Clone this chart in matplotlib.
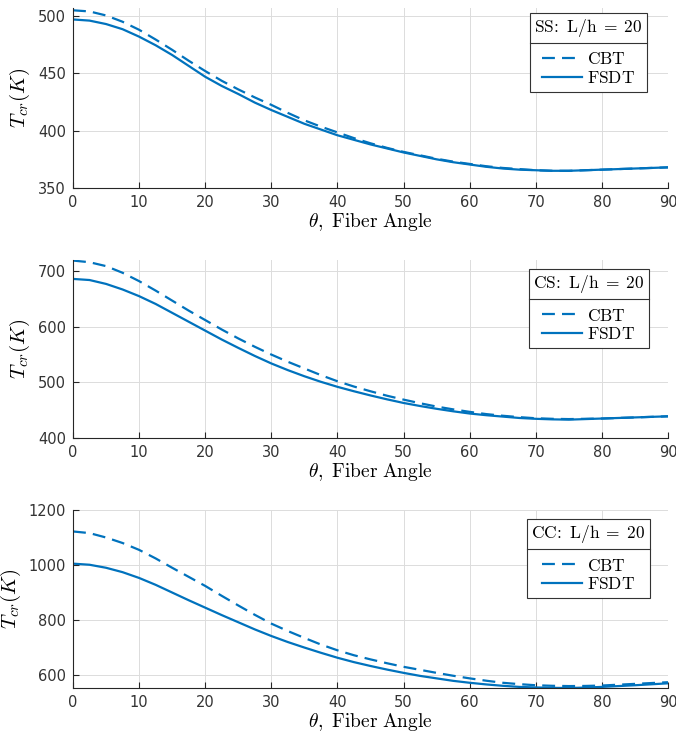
import matplotlib
matplotlib.use('Agg')
import matplotlib.pyplot as plt
from matplotlib.lines import Line2D

plt.rcParams['mathtext.fontset'] = 'cm'
plt.rcParams['font.family'] = 'DejaVu Sans'

# fiber angle in degrees
theta = [0, 2.5, 5, 7.5, 10, 12.5, 15, 17.5, 20, 22.5, 25, 27.5, 30, 32.5, 35, 37.5,
         40, 42.5, 45, 47.5, 50, 52.5, 55, 57.5, 60, 62.5, 65, 67.5, 70, 72.5, 75,
         77.5, 80, 82.5, 85, 87.5, 90]

# critical temperature (K), simply supported
ss_cbt = [505, 504, 500.5, 495, 488, 479.5, 470.5, 461, 452, 443.5, 436, 429, 422.5,
          415.5, 409, 403.5, 398.5, 393.5, 389, 385, 381.5, 378.5, 375.5, 373, 371,
          369, 367.5, 366.5, 365.5, 365, 365, 365.5, 366, 366.5, 367, 367.5, 368]
ss_fsdt = [497, 496, 493, 488.5, 482, 474.5, 466, 456.5, 447, 439, 432, 424.5, 418,
           412, 406, 401, 396, 392, 388, 384.5, 381, 378, 375, 372.5, 370.5, 368.5,
           367, 366, 365.5, 365, 365, 365.5, 366, 366.5, 367, 367.5, 368]

# clamped - simply supported
cs_cbt = [719, 716, 709, 697, 682, 665, 647, 629, 612, 595, 579, 564, 550, 537, 525,
          513, 502, 492.5, 484, 476, 469, 462.5, 456.5, 451.5, 447, 443, 440, 437.5,
          435.5, 434.5, 434, 434.5, 435, 436, 437, 438, 439]
cs_fsdt = [686, 684, 677, 667, 655, 641, 625, 609, 593, 577, 562, 547.5, 534, 522, 511,
           501, 492, 484, 476.5, 469.5, 463, 457.5, 452.5, 448, 444, 441, 438.5, 436,
           434.5, 433.5, 433, 434, 435, 436, 437, 438, 439]

# clamped - clamped
cc_cbt = [1122, 1116, 1100, 1080, 1055, 1024, 990, 957, 924, 888, 853, 819, 787, 760,
          735, 711, 690, 672, 657, 643, 630, 619, 608, 597.5, 588, 579.5, 572, 567,
          563, 561, 560, 560.5, 562, 565, 568, 571, 574]
cc_fsdt = [1005, 1001, 990, 974, 953, 928, 900, 872, 845, 818, 792, 766, 742, 720, 700,
           681, 663, 647, 633, 620, 608, 597, 588, 579, 572, 566, 561, 557, 555, 553.5,
           553, 554.5, 557, 560, 563, 566.5, 570]

panels = [
    ('SS', ss_cbt, ss_fsdt, (350, 507), [350, 400, 450, 500]),
    ('CS', cs_cbt, cs_fsdt, (400, 720), [400, 500, 600, 700]),
    ('CC', cc_cbt, cc_fsdt, (553, 1200), [600, 800, 1000, 1200]),
]
# axes boxes in pixels: (top, bottom), figure is 676 x 735
W, H = 676, 735
rows = [(8, 188), (260, 438), (510, 688)]
leg_anchor = [(0.965, 0.972), (0.968, 0.949), (0.970, 0.949)]

blue = '#0072BD'
spine_col = '#262626'

fig = plt.figure(figsize=(W / 100, H / 100), dpi=100)
legends = []
for (name, cbt, fsdt, ylim, yticks), (top, bot), anchor in zip(panels, rows, leg_anchor):
    ax = fig.add_axes([73 / W, 1 - bot / H, 595 / W, (bot - top) / H])
    ax.plot(theta, cbt, color=blue, lw=1.6, ls=(0, (5.8, 3.2)), label=r'$\mathrm{CBT}$')
    ax.plot(theta, fsdt, color=blue, lw=1.6, label=r'$\mathrm{FSDT}$')
    ax.set_xlim(0, 90)
    ax.set_ylim(*ylim)
    ax.set_xticks(range(0, 91, 10))
    ax.set_yticks(yticks)
    ax.grid(True, color='#dcdcdc', lw=0.7)
    ax.set_axisbelow(True)
    for s in ['top', 'right']:
        ax.spines[s].set_visible(False)
    for s in ['left', 'bottom']:
        ax.spines[s].set_color(spine_col)
        ax.spines[s].set_linewidth(0.8)
    ax.tick_params(direction='in', length=4, width=0.8, color=spine_col,
                   labelsize=10.5, labelcolor='#333333', pad=5)
    ax.set_xlabel(r'$\theta\mathrm{,\ Fiber\ Angle}$', fontsize=14, labelpad=1)
    ax.set_ylabel(r'$T_{cr}(K)$', fontsize=15, labelpad=4)
    leg = ax.legend(title=r'$\mathrm{' + name + r'\!:\ L/h\;=\;20}$',
                    loc='upper right', bbox_to_anchor=anchor, borderaxespad=0,
                    fontsize=12.5, title_fontsize=12.5, handlelength=2.3,
                    handletextpad=0.3, borderpad=0.25, labelspacing=0.05,
                    fancybox=False, framealpha=1, edgecolor='#333333')
    leg.get_frame().set_linewidth(0.8)
    leg._legend_box.sep = 8
    legends.append(leg)

# separator line under each legend title
fig.canvas.draw()
inv = fig.transFigure.inverted()
for leg in legends:
    fb = leg.get_frame().get_window_extent()
    tb = leg.get_title().get_window_extent()
    y = tb.y0 - 4
    (x0, yy), (x1, _) = inv.transform([(fb.x0, y), (fb.x1, y)])
    fig.add_artist(Line2D([x0, x1], [yy, yy], color='#333333', lw=0.8))

fig.savefig('out.png', dpi=100)
